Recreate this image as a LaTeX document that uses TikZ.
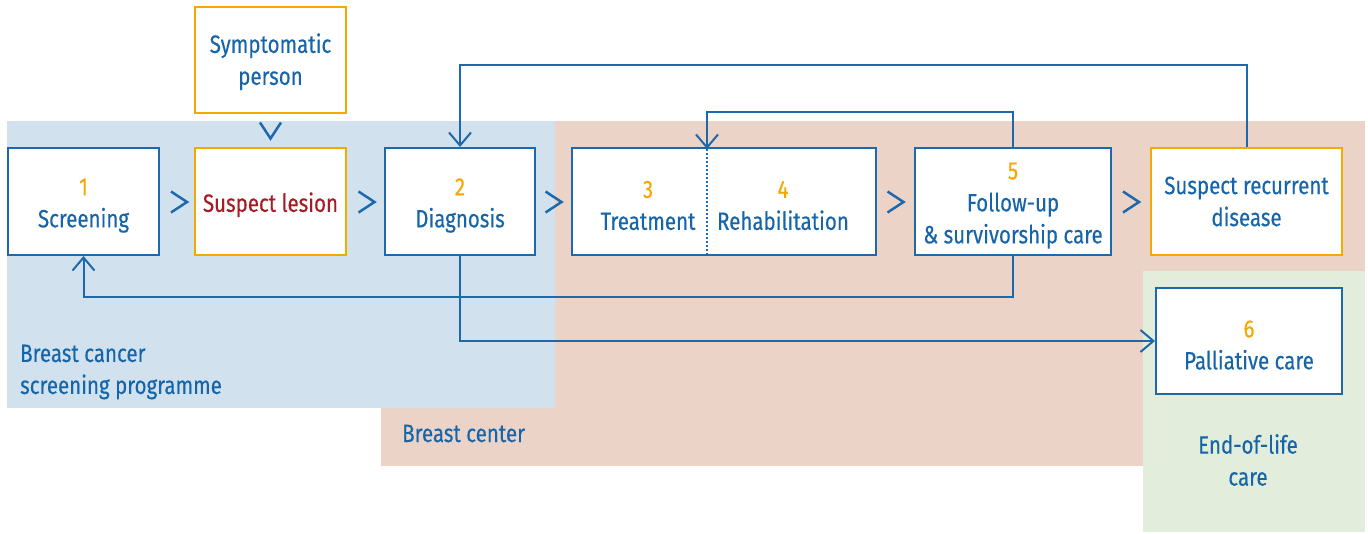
\documentclass[tikz,border=0pt]{standalone}
\usepackage{fontspec}
\setmainfont{Fira Sans}[FakeStretch=0.82,FakeBold=0.3]
\usetikzlibrary{arrows.meta,calc}
\definecolor{cblue}{HTML}{1E69AC}
\definecolor{tblue}{HTML}{1665A8}
\definecolor{corange}{HTML}{F6A800}
\definecolor{cred}{HTML}{A51C24}
\definecolor{bgblue}{HTML}{D1E2EE}
\definecolor{bgpink}{HTML}{ECD3C8}
\definecolor{bggreen}{HTML}{E2EDDC}
\tikzset{
  box/.style={draw=cblue, line width=2pt, fill=white, minimum height=107pt, inner sep=0pt, align=center, text=tblue, font=\fontsize{25}{32}\selectfont},
  obox/.style={box, draw=corange},
  lbl/.style={inner sep=0pt, text=tblue, font=\fontsize{25}{32}\selectfont},
  conn/.style={draw=cblue, line width=2pt, -{Straight Barb[length=13pt,width=22pt,line width=2pt]}},
  chev/.pic={\draw[cblue, line width=2.5pt, line cap=butt] (-8,-10.5) -- (8,0) -- (-8,10.5);}
}
\newcommand{\num}[1]{\rule{0pt}{25pt}{\color{corange}#1}}
\newcommand{\stt}[1]{\rule{0pt}{#1pt}}
\begin{document}
\begin{tikzpicture}[x=1pt,y=-1pt]
\useasboundingbox (0,0) rectangle (1368,533);
% regions
\fill[bgpink] (381,121) rectangle (1365,466);
\fill[bgblue] (7,121) rectangle (555,408);
\fill[bggreen] (1143,271) rectangle (1365,532);
% boxes
\node[box, minimum width=151pt] (scr) at (83.5,201.5) {\num{1}\\Screening};
\node[obox, minimum width=151pt] (sl) at (270.5,201.5) {\stt{26}\color{cred}Suspect lesion};
\node[obox, minimum width=151pt, minimum height=106pt] (sym) at (270.5,60) {\stt{23}Symptomatic\\person};
\node[box, minimum width=150pt] (diag) at (460,201.5) {\num{2}\\Diagnosis};
\node[box, minimum width=304pt] (tr) at (724,201.5) {};
\node[lbl, align=center] (treat) at (648,201.5) {\num{3}\\Treatment};
\node[lbl, align=center] (rehab) at (783,201.5) {\num{4}\\Rehabilitation};
\coordinate (divt) at (707,149);
\coordinate (divb) at (707,254);
\draw[cblue, line width=2pt, dotted] (divt) -- (divb);
\node[box, minimum width=196pt] (fu) at (1013,201.5) {\num{5}\\Follow-up\\\&{} survivorship care};
\node[obox, minimum width=191pt] (sr) at (1246.5,201.5) {Suspect recurrent\\disease};
\node[box, minimum width=186pt, minimum height=106pt] (pal) at (1249,341) {\num{6}\\Palliative care};
% chevrons
\path ($(scr.east)!0.5!(sl.west)$) ++(2,0.5) pic{chev};
\path ($(sl.east)!0.5!(diag.west)$) ++(1,0.5) pic{chev};
\path ($(diag.east)!0.5!(tr.west)$) ++(0,0.5) pic{chev};
\path ($(tr.east)!0.5!(fu.west)$) ++(0,0.5) pic{chev};
\path ($(fu.east)!0.5!(sr.west)$) ++(0,0.5) pic{chev};
\path ($(sym.south)!0.5!(sl.north)$) pic[rotate=-90]{chev};
% connectors
\draw[conn] (sr.north) -- ++(0,-82) -| (diag.north);
\draw[conn] (fu.north) -- ++(0,-35) -| (divt);
\draw[conn] (fu.south) -- ++(0,41) -| (scr.south);
\draw[conn] (diag.south) |- (pal.west);
% region labels
\node[lbl, align=left, anchor=west] (bcsp) at (20,372) {Breast cancer\\screening programme};
\node[lbl, anchor=base west] (bc) at (402,442) {Breast center};
\node[lbl, align=center] (eol) at (1248,460) {End-of-life\\care};
\end{tikzpicture}
\end{document}
